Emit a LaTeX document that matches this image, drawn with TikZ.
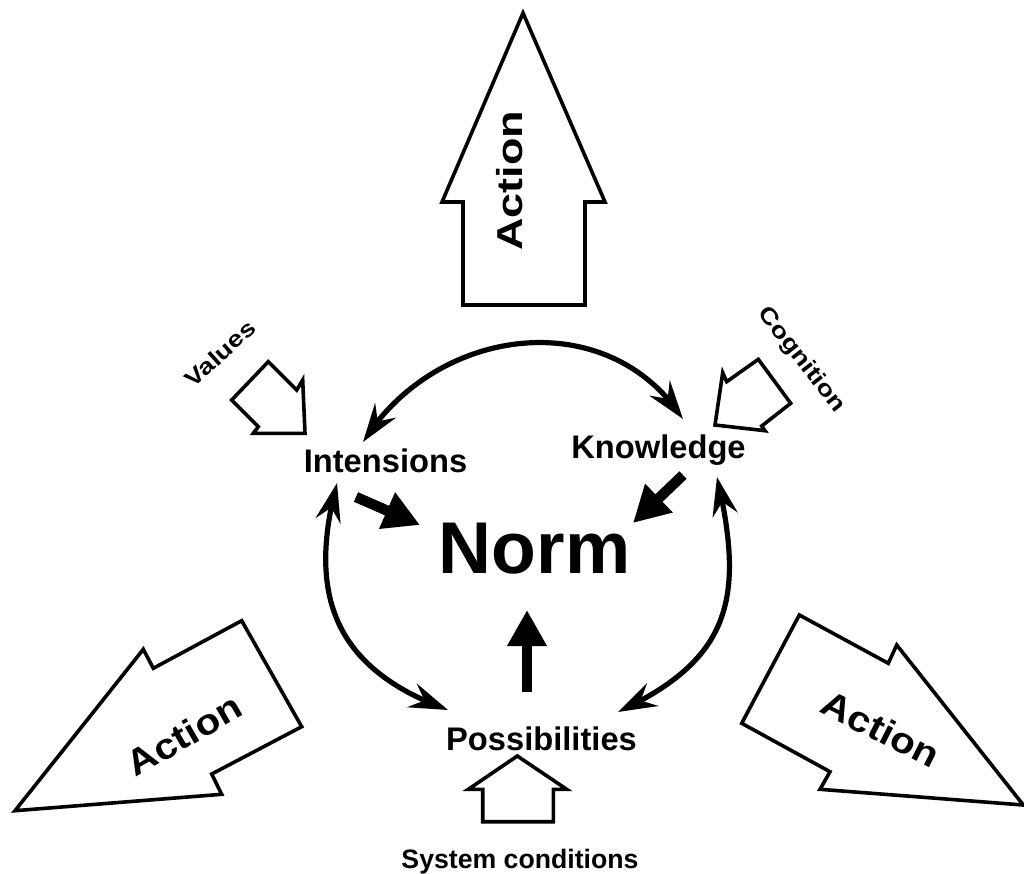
\documentclass[tikz,border=0pt]{standalone}
\usepackage{fontspec}
\setmainfont{Liberation Sans}
\usetikzlibrary{arrows.meta,bending}
\tikzset{
  blockarrow/.style={line width=2.7pt, line join=miter},
  cyclearrow/.style={line width=3.9pt,
    {Stealth[length=29pt,width=19pt,inset=10pt,flex]}-{Stealth[length=29pt,width=19pt,inset=10pt,flex]}},
  normarrow/.style={line width=7.8pt, -{Triangle[length=27pt,width=28pt]}},
  concept/.style={inner sep=0pt, font=\bfseries\fontsize{24.5}{28}\selectfont},
  source/.style={inner sep=0pt, font=\bfseries\fontsize{17}{19}\selectfont},
  actiontext/.style={inner sep=0pt, font=\bfseries\fontsize{27}{30}\selectfont}
}

\begin{document}
\begin{tikzpicture}[x=0.75pt,y=0.75pt]
  \useasboundingbox (0,0) rectangle (1024,-874);

  % big action arrows
  \draw[blockarrow] (523,-13) -- (605,-202) -- (585,-202) -- (585,-305)
    -- (463,-305) -- (463,-202) -- (442,-202) -- cycle;
  \node[actiontext, rotate=90] (act1) at (510,-181) {\scalebox{1.25}[1]{Action}};

  \draw[blockarrow] (15,-810.7) -- (143.3,-649.3) -- (153.3,-668.3) -- (241.7,-620.7)
    -- (301.7,-726.7) -- (211.7,-774) -- (221.7,-794.3) -- cycle;
  \node[actiontext, rotate=30] (act2) at (184,-735) {\scalebox{1.13}[1]{Action}};

  \draw[blockarrow] (799.3,-615) -- (888.3,-663.3) -- (896.7,-645) -- (1023.3,-805)
    -- (820,-789.3) -- (830,-771.7) -- (741.7,-723.3) -- cycle;
  \node[actiontext, rotate=-27] (act3) at (881,-729) {\scalebox{1.13}[1]{Action}};

  % small input arrows
  \draw[blockarrow] (268.3,-361.7) -- (296.7,-390) -- (302.7,-380) -- (305,-433.3)
    -- (253.3,-433.3) -- (258.3,-426.7) -- (231.7,-400) -- cycle;
  \node[source, rotate=42] (values) at (220,-353.5) {\scalebox{1.2}[1]{Values}};

  \draw[blockarrow] (758.3,-359.3) -- (790.7,-403.3) -- (761.7,-426) -- (765,-430.7)
    -- (715,-425) -- (722.7,-372.7) -- (726.7,-381.7) -- cycle;
  \node[source, rotate=-52] (cogn) at (801.5,-360) {\scalebox{1.2}[1]{Cognition}};

  \draw[blockarrow] (517.3,-756) -- (566.7,-789.3) -- (553.3,-789.3) -- (553.3,-821.7)
    -- (482.7,-821.7) -- (482.7,-789.3) -- (468.3,-789.3) -- cycle;
  \node[inner sep=0pt, anchor=base, font=\bfseries\fontsize{20}{24}\selectfont]
    (syscond) at (520,-868) {System conditions};

  % concepts
  \node[concept, anchor=base] (intens) at (385.5,-472) {Intensions};
  \node[concept, anchor=base] (know) at (658.5,-458) {Knowledge};
  \node[concept, anchor=base] (poss) at (541.5,-750) {Possibilities};
  \node[inner sep=0pt, anchor=base, font=\bfseries\fontsize{55}{60}\selectfont]
    (norm) at (534.5,-573) {Norm};

  % cycle
  \coordinate (ik1) at (363,-442);
  \coordinate (ik2) at (683,-419);
  \coordinate (ip1) at (337,-483);
  \coordinate (ip2) at (448,-710);
  \coordinate (kp1) at (717,-477);
  \coordinate (kp2) at (618,-712);
  \draw[cyclearrow] (ik1) to[out=58,in=123,looseness=1.1] (ik2);
  \draw[cyclearrow] (ip1) to[out=255,in=160,looseness=1.2] (ip2);
  \draw[cyclearrow] (kp1) to[out=283,in=25,looseness=1.25] (kp2);

  % into the norm
  \coordinate (in1) at (356,-497);
  \coordinate (in2) at (420,-525);
  \coordinate (kn1) at (683,-475);
  \coordinate (kn2) at (633,-523);
  \coordinate (pn1) at (527,-692);
  \coordinate (pn2) at (527,-610);
  \draw[normarrow] (in1) -- (in2);
  \draw[normarrow] (kn1) -- (kn2);
  \draw[normarrow] (pn1) -- (pn2);

\end{tikzpicture}
\end{document}
